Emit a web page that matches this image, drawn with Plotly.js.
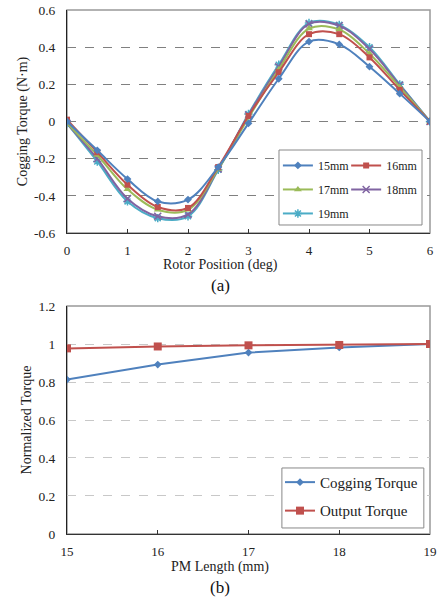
<!DOCTYPE html>
<html><head><meta charset="utf-8">
<script src="https://cdn.plot.ly/plotly-3.0.1.min.js"></script>
<style>html,body{margin:0;padding:0;background:#fff}#chart{width:440px;height:601px}</style>
</head><body><div id="chart"></div>
<script>
// ---- data (a) ----
const rotorPos = [0,0.5,1,1.5,2,2.5,3,3.5,4,4.5,5,5.5,6];
const t15 = [0,-0.155,-0.31,-0.43,-0.42,-0.245,-0.01,0.23,0.43,0.415,0.295,0.15,0];
const t16 = [0.01,-0.165,-0.34,-0.46,-0.465,-0.245,0.03,0.265,0.47,0.47,0.345,0.17,0];
const t17 = [-0.01,-0.18,-0.365,-0.475,-0.475,-0.255,0.02,0.28,0.5,0.495,0.365,0.185,0];
const t18 = [-0.01,-0.2,-0.415,-0.51,-0.5,-0.255,0.035,0.295,0.525,0.515,0.39,0.195,0];
const t19 = [-0.01,-0.215,-0.43,-0.52,-0.51,-0.26,0.04,0.305,0.53,0.52,0.4,0.2,0];
const seriesNames = ['15mm','16mm','17mm','18mm','19mm'];
const yTickValsA = [-0.6,-0.4,-0.2,0,0.2,0.4,0.6];
const yTickTextA = ['-0.6','-0.4','-0.2','0','0.2','0.4','0.6'];
const xTickValsA = [0,1,2,3,4,5,6];
// ---- data (b) ----
const pmLength = [15,16,17,18,19];
const coggingNorm = [0.813,0.892,0.955,0.982,1.0];
const outputNorm = [0.977,0.987,0.993,0.995,1.0];
const yTickValsB = [0,0.2,0.4,0.6,0.8,1,1.2];
const yTickTextB = ['0','0.2','0.4','0.6','0.8','1','1.2'];

const font = 'Liberation Serif';
const cols = ['#4F81BD','#C0504D','#9BBB59','#8064A2','#4BACC6'];
const syms = ['diamond','square','triangle-up','x-thin','asterisk'];
const sizes = [6,6,7,7,7];
const vals = [t15,t16,t17,t18,t19];
const legendOf = ['legend','legend2','legend','legend2','legend'];

const traces = [];
for (let i = 4; i >= 0; i--) {
  const open = syms[i].indexOf('thin')>=0 || syms[i]==='asterisk';
  traces.push({
    x: rotorPos, y: vals[i], name: seriesNames[i], type: 'scatter', mode: 'lines+markers',
    xaxis: 'x', yaxis: 'y', legend: legendOf[i], legendgroup: 'g'+i, legendrank: i,
    line: {color: cols[i], width: 2, shape: 'spline', smoothing: 1},
    marker: {symbol: syms[i], size: sizes[i], color: cols[i], line: {color: cols[i], width: open ? 1.5 : 0}}
  });
}
traces.push({x: pmLength, y: coggingNorm, name: 'Cogging Torque', type: 'scatter', mode: 'lines+markers',
  xaxis: 'x2', yaxis: 'y2', legend: 'legend3', legendgroup: 'c',
  line: {color: '#4F81BD', width: 2}, marker: {symbol: 'diamond', size: 6, color: '#4F81BD'}});
traces.push({x: pmLength, y: outputNorm, name: 'Output Torque', type: 'scatter', mode: 'lines+markers',
  xaxis: 'x2', yaxis: 'y2', legend: 'legend3', legendgroup: 'o',
  line: {color: '#C0504D', width: 2}, marker: {symbol: 'square', size: 8, color: '#C0504D'}});

const tickFont = {family: font, size: 13.5, color: '#222'};
const xTickFont = {family: font, size: 13, color: '#222'};
const titleFont = {family: font, size: 14, color: '#222'};
const txtColor = '#222';

const layout = {
  width: 440, height: 601,
  margin: {l: 67, r: 10, t: 10, b: 67},
  paper_bgcolor: '#fff', plot_bgcolor: '#fff',
  showlegend: true,
  font: {family: font, color: txtColor},
  xaxis: {domain: [0,1], anchor: 'y', range: [0,6], tickvals: xTickValsA, ticks: 'inside', ticklen: 4, tickcolor: '#333',
    showgrid: false, zeroline: false, showline: true, linecolor: '#333', linewidth: 1, tickfont: xTickFont, ticklabelstandoff: 5},
  yaxis: {domain: [0.5744,1], anchor: 'x', range: [-0.6,0.6], tickvals: yTickValsA, ticktext: yTickTextA,
    showgrid: true, gridcolor: '#808080', griddash: 'dash', gridwidth: 1, zeroline: false, showline: true, linecolor: '#222',
    ticks: '', tickfont: tickFont, ticklabelstandoff: 8, title: {text: 'Cogging Torque (N·m)', font: titleFont, standoff: 3}},
  xaxis2: {domain: [0,1], anchor: 'y2', range: [15,19], tickvals: pmLength, ticks: 'inside', ticklen: 4, tickcolor: '#333',
    showgrid: false, zeroline: false, showline: true, linecolor: '#333', tickfont: xTickFont, ticklabelstandoff: 5},
  yaxis2: {domain: [0,0.4351], anchor: 'x2', range: [0,1.2], tickvals: yTickValsB, ticktext: yTickTextB,
    showgrid: true, gridcolor: '#c8c8c8', griddash: 'dash', zeroline: false, showline: true, linecolor: '#222',
    ticks: '', tickfont: tickFont, ticklabelstandoff: 8, title: {text: 'Normalized Torque', font: titleFont, standoff: 3}},
  legend: {x: 0.581, y: 0.731, xanchor: 'left', yanchor: 'top', bgcolor: 'rgba(0,0,0,0)', font: {family: font, size: 12, color: txtColor},
    tracegroupgap: 5, itemwidth: 30, traceorder: 'grouped'},
  legend2: {x: 0.769, y: 0.731, xanchor: 'left', yanchor: 'top', bgcolor: 'rgba(0,0,0,0)', font: {family: font, size: 12, color: txtColor},
    tracegroupgap: 5, itemwidth: 30, traceorder: 'grouped'},
  legend3: {x: 0.5868, y: 0.130, xanchor: 'left', yanchor: 'top', bgcolor: 'rgba(0,0,0,0)', font: {family: font, size: 15, color: txtColor},
    tracegroupgap: 6, itemwidth: 30, traceorder: 'grouped'},
  shapes: [
    {type: 'rect', xref: 'x domain', yref: 'y domain', x0: 0, x1: 1, y0: 0, y1: 1, line: {color: '#999', width: 1.5}, layer: 'below'},
    {type: 'rect', xref: 'x2 domain', yref: 'y2 domain', x0: 0, x1: 1, y0: 0, y1: 1, line: {color: '#999', width: 1.5}, layer: 'below'},
    {type: 'rect', xref: 'paper', yref: 'paper', x0: 0.584, x1: 0.978, y0: 0.5897, y1: 0.7328, line: {color: '#888', width: 1}, fillcolor: '#fff', layer: 'above'},
    {type: 'rect', xref: 'paper', yref: 'paper', x0: 0.592, x1: 0.983, y0: 0.0115, y1: 0.126, line: {color: '#888', width: 1}, fillcolor: '#fff', layer: 'above'}
  ],
  annotations: [
    {text: 'Rotor Position (deg)', xref: 'paper', yref: 'paper', x: 0.4215, y: 0.5125, yanchor: 'middle', showarrow: false, font: titleFont},
    {text: 'PM Length (mm)', xref: 'paper', yref: 'paper', x: 0.4215, y: -0.0635, yanchor: 'middle', showarrow: false, font: titleFont},
    {text: '(a)', xref: 'paper', yref: 'paper', x: 0.4215, y: 0.475, yanchor: 'middle', showarrow: false, font: {family: font, size: 17, color: '#111'}},
    {text: '(b)', xref: 'paper', yref: 'paper', x: 0.4215, y: -0.1025, yanchor: 'middle', showarrow: false, font: {family: font, size: 17, color: '#111'}}
  ]
};
Plotly.newPlot('chart', traces, layout, {displayModeBar: false, staticPlot: true});
</script></body></html>
